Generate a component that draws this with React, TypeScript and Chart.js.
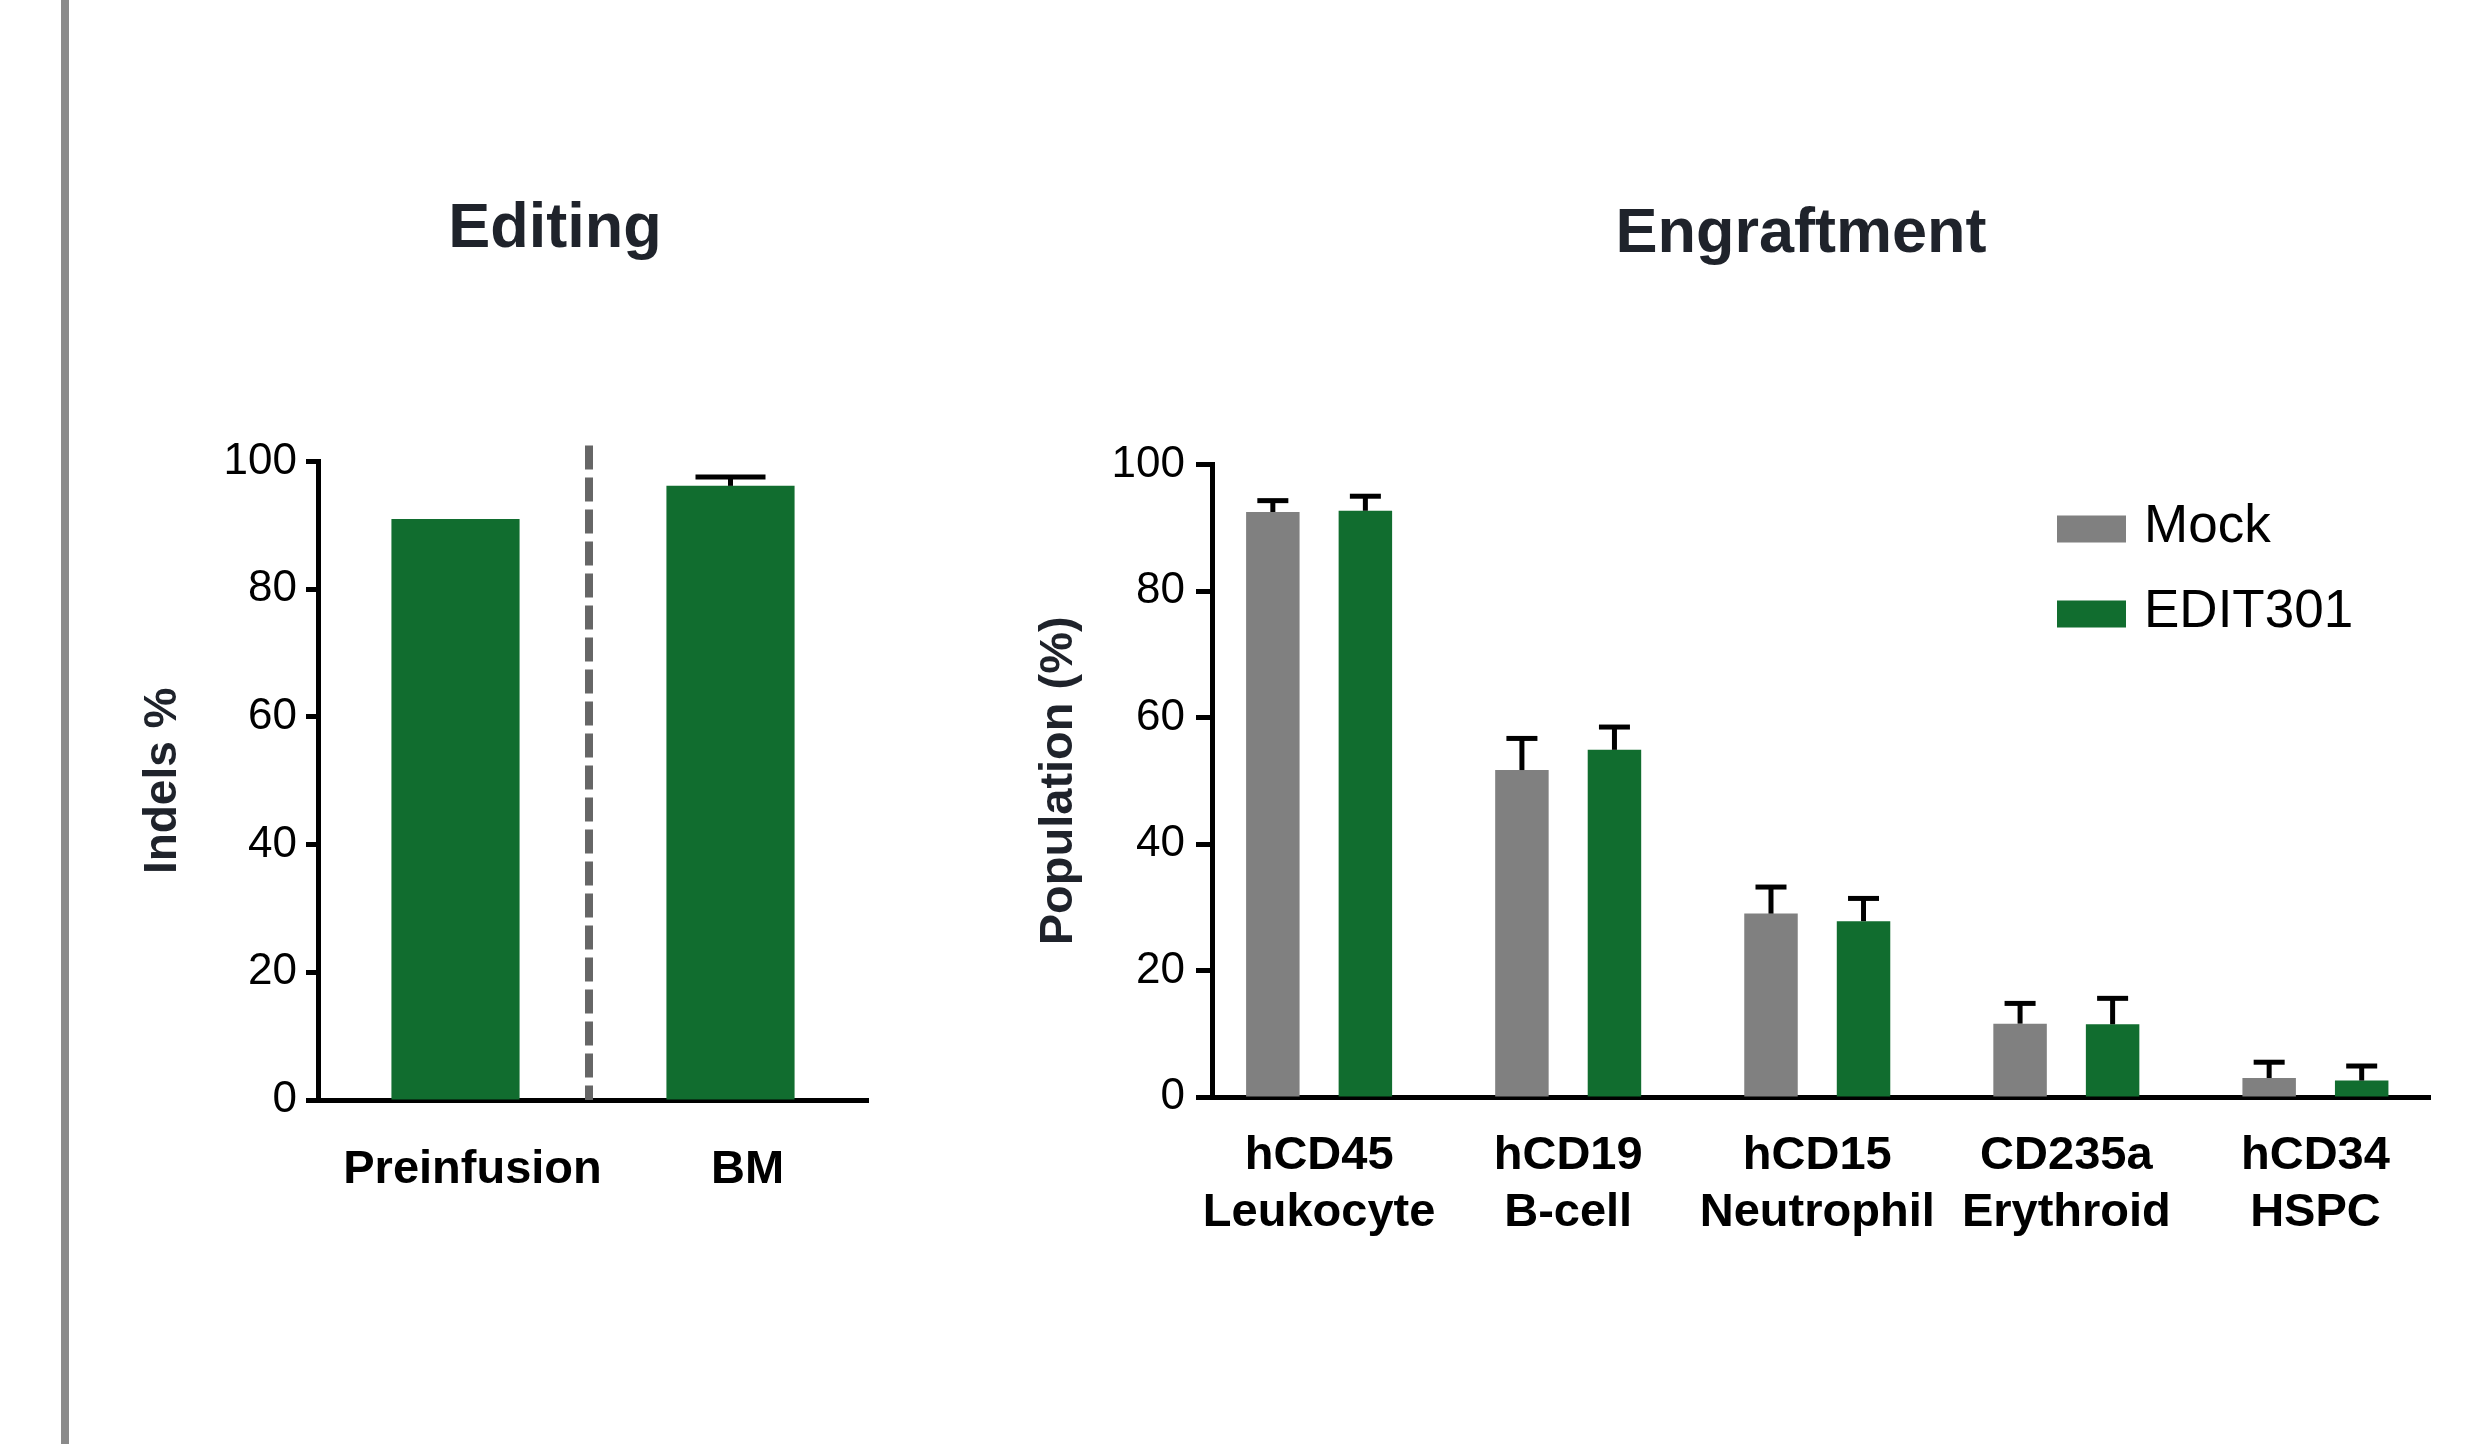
import React, { useEffect, useRef } from "react";
import { Chart, registerables } from "chart.js";

Chart.register(...registerables);

const FONT = "'Liberation Sans', Arial, Helvetica, sans-serif";
const GREEN = "#116d2f";
const GRAY = "#808080";
const TITLE_COLOR = "#1f232b";

// ---- Data: Editing panel ----
const editingCategories = ["Preinfusion", "BM"];
const editingValues = [91.0, 96.2];
const editingErrors = [0, 1.4];

// ---- Data: Engraftment panel ----
const engraftmentCategories = [
  ["hCD45", "Leukocyte"],
  ["hCD19", "B-cell"],
  ["hCD15", "Neutrophil"],
  ["CD235a", "Erythroid"],
  ["hCD34", "HSPC"],
];
const mockValues = [92.5, 51.7, 29.0, 11.6, 3.0];
const mockErrors = [1.8, 5.0, 4.2, 3.2, 2.5];
const edit301Values = [92.7, 54.9, 27.8, 11.5, 2.6];
const edit301Errors = [2.3, 3.6, 3.6, 4.1, 2.3];

const yMin = 0;
const yMax = 100;
const yStep = 20;

const errorBarPlugin = {
  id: "errorBars",
  afterDatasetsDraw(chart: any, _args: any, opts: any) {
    const { ctx } = chart;
    const yScale = chart.scales.y;
    const capWidth = opts?.capWidth ?? 30;
    const stemWidth = opts?.stemWidth ?? 5;
    const capThickness = opts?.capThickness ?? 5;
    chart.data.datasets.forEach((ds: any, i: number) => {
      const errs = ds.errors;
      if (!errs) return;
      const meta = chart.getDatasetMeta(i);
      meta.data.forEach((bar: any, j: number) => {
        const e = errs[j];
        if (!e) return;
        const v = ds.data[j];
        const yTop = yScale.getPixelForValue(v + e);
        const x = bar.x;
        ctx.save();
        ctx.strokeStyle = "#000";
        ctx.lineCap = "butt";
        ctx.lineWidth = stemWidth;
        ctx.beginPath();
        ctx.moveTo(x, bar.y);
        ctx.lineTo(x, yTop);
        ctx.stroke();
        ctx.lineWidth = capThickness;
        ctx.beginPath();
        ctx.moveTo(x - capWidth / 2, yTop);
        ctx.lineTo(x + capWidth / 2, yTop);
        ctx.stroke();
        ctx.restore();
      });
    });
  },
};

const separatorPlugin = {
  id: "separator",
  beforeDatasetsDraw(chart: any, _args: any, opts: any) {
    const { ctx, chartArea } = chart;
    const x = chart.scales.x;
    const px = (x.getPixelForValue(0) + x.getPixelForValue(1)) / 2 + (opts?.shift ?? 0);
    ctx.save();
    ctx.strokeStyle = opts?.color ?? "#666";
    ctx.lineWidth = opts?.width ?? 8;
    ctx.setLineDash(opts?.dash ?? [24, 8]);
    ctx.beginPath();
    ctx.moveTo(px, chartArea.top - (opts?.extend ?? 16));
    ctx.lineTo(px, chartArea.bottom);
    ctx.stroke();
    ctx.restore();
  },
};

const sideLegendPlugin = {
  id: "sideLegend",
  afterDraw(chart: any, _args: any, opts: any) {
    const { ctx } = chart;
    chart.data.datasets.forEach((ds: any, i: number) => {
      const cy = opts.y + i * opts.rowGap;
      ctx.save();
      ctx.fillStyle = ds.backgroundColor;
      ctx.fillRect(opts.x, cy - opts.boxH / 2, opts.boxW, opts.boxH);
      ctx.fillStyle = "#000";
      ctx.font = `${opts.fontSize}px ${FONT}`;
      ctx.textBaseline = "middle";
      ctx.textAlign = "left";
      ctx.fillText(ds.label, opts.x + opts.boxW + opts.gap, cy - 2);
      ctx.restore();
    });
  },
};

// invisible right-side spacer axis so the (full-width) title stays centred on the canvas
const spacerAxis = (w: number) => ({
  type: "linear",
  position: "right",
  display: true,
  grid: { display: false, drawTicks: false },
  border: { display: false },
  ticks: { display: false },
  afterFit: (s: any) => {
    s.width = w;
  },
});

export default function App() {
  const leftRef = useRef<HTMLCanvasElement>(null);
  const rightRef = useRef<HTMLCanvasElement>(null);

  useEffect(() => {
    const left = new Chart(leftRef.current as HTMLCanvasElement, {
      type: "bar",
      data: {
        labels: editingCategories,
        datasets: [
          {
            label: "Indels",
            data: editingValues,
            errors: editingErrors,
            backgroundColor: GREEN,
            borderWidth: 0,
            barPercentage: 0.466,
            categoryPercentage: 1,
          } as any,
        ],
      },
      options: {
        responsive: false,
        animation: false,
        devicePixelRatio: 1,
        layout: { padding: 0 },
        plugins: {
          legend: { display: false },
          tooltip: { enabled: false },
          title: {
            display: true,
            text: "Editing",
            color: TITLE_COLOR,
            font: { size: 63, weight: "bold", family: FONT },
            padding: { top: 192, bottom: 194 },
          },
          errorBars: { capWidth: 70, stemWidth: 5, capThickness: 5 },
          separator: { color: "#666666", width: 8, dash: [24, 8], extend: 16, shift: -4 },
        } as any,
        scales: {
          x: {
            grid: { display: false, drawTicks: false },
            border: { display: true, color: "#000", width: 5 },
            ticks: {
              color: "#000",
              font: { size: 47, weight: "bold", family: FONT },
              padding: 42,
              labelOffset: 17,
              maxRotation: 0,
              autoSkip: false,
            },
            afterFit: (s: any) => {
              s.height = 200;
            },
          },
          y: {
            min: yMin,
            max: yMax,
            ticks: {
              stepSize: yStep,
              color: "#000",
              font: { size: 44, family: FONT },
              padding: 9,
            },
            grid: {
              drawOnChartArea: false,
              drawTicks: true,
              tickLength: 12,
              tickWidth: 5,
              tickColor: "#000",
            },
            border: { display: true, color: "#000", width: 5 },
            title: {
              display: true,
              text: "Indels %",
              color: TITLE_COLOR,
              font: { size: 46, weight: "bold", family: FONT },
              padding: { top: 56, bottom: 0 },
            },
            afterFit: (s: any) => {
              s.width = 238;
            },
          },
          spacer: spacerAxis(162),
        },
      } as any,
      plugins: [errorBarPlugin, separatorPlugin],
    });

    const right = new Chart(rightRef.current as HTMLCanvasElement, {
      type: "bar",
      data: {
        labels: engraftmentCategories,
        datasets: [
          {
            label: "Mock",
            data: mockValues,
            errors: mockErrors,
            backgroundColor: GRAY,
            borderWidth: 0,
            barPercentage: 0.578,
            categoryPercentage: 0.743,
          } as any,
          {
            label: "EDIT301",
            data: edit301Values,
            errors: edit301Errors,
            backgroundColor: GREEN,
            borderWidth: 0,
            barPercentage: 0.578,
            categoryPercentage: 0.743,
          } as any,
        ],
      },
      options: {
        responsive: false,
        animation: false,
        devicePixelRatio: 1,
        layout: { padding: 0 },
        plugins: {
          legend: { display: false },
          tooltip: { enabled: false },
          title: {
            display: true,
            text: "Engraftment",
            color: TITLE_COLOR,
            font: { size: 63, weight: "bold", family: FONT },
            padding: { top: 197, bottom: 192 },
          },
          errorBars: { capWidth: 31, stemWidth: 5, capThickness: 5 },
          sideLegend: {
            x: 1057,
            y: 529,
            rowGap: 85,
            boxW: 69,
            boxH: 27,
            gap: 18,
            fontSize: 53,
          },
        } as any,
        scales: {
          x: {
            grid: { display: false, drawTicks: false },
            border: { display: true, color: "#000", width: 5 },
            ticks: {
              color: "#000",
              font: { size: 47, weight: "bold", family: FONT },
              padding: 31,
              maxRotation: 0,
              autoSkip: false,
            },
            // the category band starts slightly left of the y axis in the original figure
            afterBuildTicks: (s: any) => {
              s._startValue = -0.43;
              s._valueRange = 4.89;
            },
            afterFit: (s: any) => {
              s.height = 203;
            },
          },
          y: {
            min: yMin,
            max: yMax,
            ticks: {
              stepSize: yStep,
              color: "#000",
              font: { size: 44, family: FONT },
              padding: 11,
            },
            grid: {
              drawOnChartArea: false,
              drawTicks: true,
              tickLength: 16,
              tickWidth: 5,
              tickColor: "#000",
            },
            border: { display: true, color: "#000", width: 5 },
            title: {
              display: true,
              text: "Population (%)",
              color: TITLE_COLOR,
              font: { size: 47, weight: "bold", family: FONT },
              padding: { top: 31, bottom: 0 },
            },
            afterFit: (s: any) => {
              s.width = 212;
            },
          },
          spacer: spacerAxis(172),
        },
      } as any,
      plugins: [errorBarPlugin, sideLegendPlugin],
    });

    return () => {
      left.destroy();
      right.destroy();
    };
  }, []);

  return (
    <div
      style={{
        position: "fixed",
        left: 0,
        top: 0,
        width: 2471,
        height: 1444,
        overflow: "hidden",
        background: "#ffffff",
      }}
    >
      <div
        style={{
          position: "absolute",
          left: 61,
          top: 0,
          width: 8,
          height: 1444,
          background: "#8a8a8a",
        }}
      />
      <canvas
        ref={leftRef}
        width={950}
        height={1300}
        style={{ position: "absolute", left: 80, top: 0, width: 950, height: 1300 }}
      />
      <canvas
        ref={rightRef}
        width={1602}
        height={1300}
        style={{ position: "absolute", left: 1000, top: 0, width: 1602, height: 1300 }}
      />
    </div>
  );
}
